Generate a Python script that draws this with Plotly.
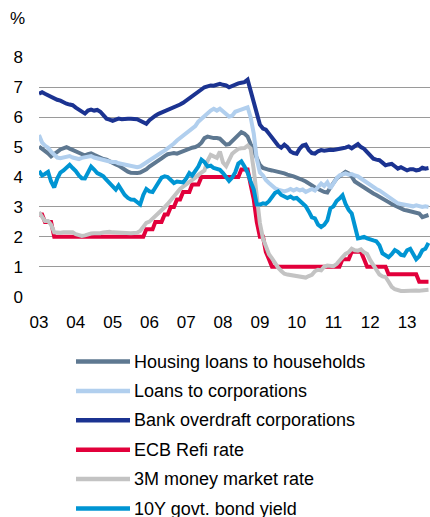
import pandas as pd
import plotly.graph_objects as go

dates = pd.date_range("2003-01-01", periods=128, freq="MS")

housing = [
    5.02, 4.95, 4.85, 4.79, 4.69, 4.75, 4.84, 4.92, 4.96, 5.00, 4.95, 4.90,
    4.84, 4.80, 4.75, 4.72, 4.76, 4.79, 4.74, 4.69, 4.64, 4.60, 4.58, 4.52,
    4.47, 4.42, 4.38, 4.30, 4.24, 4.18, 4.14, 4.12, 4.13, 4.15, 4.20, 4.26,
    4.35, 4.41, 4.48, 4.55, 4.62, 4.70, 4.76, 4.78, 4.80, 4.78, 4.82, 4.88,
    4.91, 4.94, 4.98, 5.00, 5.05, 5.15, 5.30, 5.35, 5.32, 5.30, 5.30, 5.28,
    5.18, 5.08, 5.10, 5.20, 5.30, 5.42, 5.50, 5.45, 5.35, 5.10, 4.85, 4.60,
    4.40, 4.30, 4.26, 4.24, 4.22, 4.20, 4.18, 4.15, 4.12, 4.08, 4.06, 4.02,
    3.98, 3.95, 3.90, 3.85, 3.80, 3.72, 3.65, 3.58, 3.55, 3.50, 3.48, 3.65,
    3.80, 3.95, 4.02, 4.10, 4.17, 4.12, 4.02, 3.85, 3.78, 3.70, 3.62, 3.55,
    3.50, 3.45, 3.40, 3.33, 3.28, 3.22, 3.16, 3.10, 3.04, 3.00, 2.95, 2.90,
    2.88, 2.85, 2.82, 2.80, 2.78, 2.66, 2.70, 2.73,
]

corporations = [
    5.40, 5.15, 5.05, 4.98, 4.85, 4.75, 4.65, 4.63, 4.65, 4.68, 4.70, 4.65,
    4.62, 4.60, 4.64, 4.66, 4.68, 4.70, 4.65, 4.62, 4.58, 4.58, 4.55, 4.52,
    4.50, 4.50, 4.46, 4.44, 4.44, 4.42, 4.38, 4.36, 4.33, 4.35, 4.42, 4.50,
    4.58, 4.65, 4.70, 4.75, 4.82, 4.88, 4.95, 5.05, 5.12, 5.22, 5.30, 5.38,
    5.45, 5.52, 5.60, 5.70, 5.85, 5.95, 6.05, 6.15, 6.22, 6.28, 6.22, 6.28,
    6.20, 6.08, 6.02, 6.05, 6.18, 6.22, 6.25, 6.30, 6.33, 6.00, 5.45, 4.60,
    4.15, 4.05, 3.90, 3.80, 3.70, 3.62, 3.58, 3.55, 3.52, 3.55, 3.60, 3.55,
    3.60, 3.55, 3.58, 3.50, 3.55, 3.60, 3.55, 3.65, 3.78, 3.70, 3.82, 3.62,
    3.80, 3.95, 4.05, 4.10, 4.12, 4.08, 4.10, 4.05, 4.02, 3.95, 3.88, 3.78,
    3.72, 3.65, 3.60, 3.55, 3.48, 3.42, 3.35, 3.25, 3.20, 3.12, 3.10, 3.08,
    3.05, 3.04, 3.02, 3.05, 3.02, 3.00, 3.02, 3.00,
]

overdraft = [
    6.78, 6.83, 6.78, 6.72, 6.68, 6.62, 6.58, 6.55, 6.48, 6.45, 6.42, 6.40,
    6.32, 6.25, 6.18, 6.12, 6.22, 6.25, 6.22, 6.24, 6.18, 6.05, 5.95, 5.92,
    5.88, 5.92, 5.95, 5.93, 5.95, 5.95, 5.95, 5.94, 5.93, 5.88, 5.82, 5.78,
    5.90, 6.00, 6.05, 6.11, 6.15, 6.20, 6.25, 6.30, 6.33, 6.37, 6.42, 6.48,
    6.55, 6.62, 6.70, 6.78, 6.85, 6.92, 7.00, 7.03, 7.06, 7.05, 7.08, 7.11,
    7.08, 7.06, 7.00, 7.05, 7.10, 7.13, 7.15, 7.17, 7.25, 6.90, 6.50, 6.10,
    5.75, 5.62, 5.58, 5.45, 5.30, 5.20, 5.05, 4.98, 5.08, 5.00, 4.85, 4.80,
    4.78, 4.95, 5.05, 5.08, 4.90, 4.80, 4.78, 4.86, 4.90, 4.88, 4.90, 4.91,
    4.90, 4.93, 4.95, 4.96, 4.98, 5.02, 4.96, 5.05, 5.10, 5.00, 4.94, 4.83,
    4.72, 4.61, 4.58, 4.56, 4.48, 4.39, 4.42, 4.44, 4.36, 4.28, 4.33, 4.26,
    4.22, 4.26, 4.26, 4.22, 4.24, 4.31, 4.28, 4.30,
]

ecb_refi = [
    2.75, 2.75, 2.50, 2.50, 2.50, 2.00, 2.00, 2.00, 2.00, 2.00, 2.00, 2.00,
    2.00, 2.00, 2.00, 2.00, 2.00, 2.00, 2.00, 2.00, 2.00, 2.00, 2.00, 2.00,
    2.00, 2.00, 2.00, 2.00, 2.00, 2.00, 2.00, 2.00, 2.00, 2.00, 2.00, 2.25,
    2.25, 2.25, 2.50, 2.50, 2.50, 2.75, 2.75, 3.00, 3.00, 3.25, 3.25, 3.50,
    3.50, 3.50, 3.75, 3.75, 3.75, 4.00, 4.00, 4.00, 4.00, 4.00, 4.00, 4.00,
    4.00, 4.00, 4.00, 4.00, 4.00, 4.00, 4.25, 4.25, 4.25, 3.75, 3.25, 2.50,
    2.00, 2.00, 1.50, 1.25, 1.00, 1.00, 1.00, 1.00, 1.00, 1.00, 1.00, 1.00,
    1.00, 1.00, 1.00, 1.00, 1.00, 1.00, 1.00, 1.00, 1.00, 1.00, 1.00, 1.00,
    1.00, 1.00, 1.00, 1.25, 1.25, 1.25, 1.50, 1.50, 1.50, 1.50, 1.25, 1.00,
    1.00, 1.00, 1.00, 1.00, 1.00, 1.00, 0.75, 0.75, 0.75, 0.75, 0.75, 0.75,
    0.75, 0.75, 0.75, 0.75, 0.50, 0.50, 0.50, 0.50,
]

money_3m = [
    2.83, 2.69, 2.53, 2.53, 2.40, 2.15, 2.13, 2.14, 2.15, 2.14, 2.16, 2.15,
    2.09, 2.07, 2.03, 2.05, 2.09, 2.11, 2.12, 2.11, 2.12, 2.15, 2.17, 2.17,
    2.15, 2.14, 2.14, 2.14, 2.13, 2.11, 2.12, 2.13, 2.14, 2.20, 2.36, 2.47,
    2.51, 2.60, 2.72, 2.79, 2.89, 2.99, 3.10, 3.23, 3.34, 3.50, 3.60, 3.68,
    3.75, 3.82, 3.89, 3.98, 4.07, 4.15, 4.22, 4.54, 4.74, 4.69, 4.64, 4.85,
    4.48, 4.36, 4.60, 4.78, 4.86, 4.94, 4.96, 4.97, 5.05, 4.95, 4.24, 3.29,
    2.46, 1.94, 1.64, 1.42, 1.28, 1.10, 0.97, 0.86, 0.77, 0.74, 0.72, 0.71,
    0.68, 0.66, 0.64, 0.64, 0.69, 0.73, 0.85, 0.90, 0.88, 1.00, 1.04, 1.02,
    1.02, 1.09, 1.18, 1.32, 1.43, 1.49, 1.60, 1.55, 1.54, 1.58, 1.48, 1.43,
    1.22, 1.05, 0.86, 0.74, 0.68, 0.66, 0.50, 0.33, 0.25, 0.21, 0.19, 0.19,
    0.20, 0.22, 0.21, 0.21, 0.20, 0.21, 0.22, 0.23,
]

bond_10y = [
    4.20, 4.05, 4.10, 4.17, 3.85, 3.65, 3.95, 4.15, 4.22, 4.30, 4.41, 4.30,
    4.20, 4.05, 3.96, 3.95, 4.15, 4.35, 4.25, 4.13, 4.08, 4.02, 3.90, 3.80,
    3.65, 3.58, 3.72, 3.55, 3.40, 3.30, 3.25, 3.24, 3.15, 3.08, 3.40, 3.60,
    3.52, 3.50, 3.65, 3.80, 3.98, 4.02, 4.00, 3.90, 3.80, 3.85, 3.85, 3.82,
    3.95, 4.13, 4.05, 4.20, 4.35, 4.58, 4.50, 4.35, 4.38, 4.30, 4.28, 4.24,
    4.13, 4.00, 3.87, 3.98, 4.15, 4.45, 4.52, 4.35, 4.15, 3.85, 3.58, 3.08,
    3.08, 3.12, 3.10, 3.19, 3.35, 3.47, 3.52, 3.40, 3.35, 3.30, 3.35, 3.28,
    3.30, 3.20, 3.10, 3.02, 2.85, 2.65, 2.62, 2.41, 2.33, 2.40, 2.55, 2.95,
    3.02, 3.20, 3.28, 3.39, 3.10, 2.90, 2.78, 2.30, 1.95, 1.97, 2.00, 1.95,
    1.90, 1.88, 1.85, 1.72, 1.45, 1.39, 1.32, 1.42, 1.56, 1.50, 1.40, 1.38,
    1.55, 1.60, 1.40, 1.25, 1.35, 1.55, 1.60, 1.80,
]

series_names = [
    "Housing loans to households",
    "Loans to corporations",
    "Bank overdraft corporations",
    "ECB Refi rate",
    "3M money market rate",
    "10Y govt. bond yield",
]
series_values = [housing, corporations, overdraft, ecb_refi, money_3m, bond_10y]
series_colors = ["#5e7891", "#b1cfee", "#1b3391", "#e2003b", "#c3c3c3", "#0095d3"]

FONT = "Arial, Liberation Sans, sans-serif"
W, H = 430, 517
ML, MR, MT, MB = 39, 0, 57, 220
PW, PH = W - ML - MR, H - MT - MB


def px_to_paper_x(px):
    return (px - ML) / PW


def px_to_paper_y(py):
    return (H - MB - py) / PH


fig = go.Figure()
for name, vals, col in zip(series_names, series_values, series_colors):
    fig.add_trace(go.Scatter(
        x=dates, y=vals, name=name, mode="lines",
        line=dict(color=col, width=4),
        showlegend=False,
    ))

# Manual legend (the original's legend runs off the bottom edge)
shapes = []
annotations = []
row_start, row_step = 361.5, 29.4
for i, (name, col) in enumerate(zip(series_names, series_colors)):
    yc = px_to_paper_y(row_start + i * row_step)
    shapes.append(dict(
        type="line", xref="paper", yref="paper",
        x0=px_to_paper_x(76), x1=px_to_paper_x(130), y0=yc, y1=yc,
        line=dict(color=col, width=4.5),
    ))
    annotations.append(dict(
        text=name, xref="paper", yref="paper",
        x=px_to_paper_x(131.5), y=yc, xanchor="left", yanchor="middle",
        showarrow=False, font=dict(family=FONT, size=18, color="#000000"),
    ))

annotations.append(dict(
    text="%", xref="paper", yref="paper",
    x=px_to_paper_x(17.5), y=px_to_paper_y(19), xanchor="center", yanchor="middle",
    showarrow=False, font=dict(family=FONT, size=17, color="#000000"),
))

fig.update_layout(
    width=W, height=H,
    margin=dict(l=ML, r=MR, t=MT, b=MB, autoexpand=False),
    paper_bgcolor="white", plot_bgcolor="white",
    font=dict(family=FONT, size=17, color="#000000"),
    showlegend=False,
    xaxis=dict(
        type="date",
        range=["2003-01-01", "2013-08-16"],
        tick0="2003-01-01", dtick="M12", tickformat="%y",
        showgrid=False, zeroline=False, showline=False,
        ticks="", ticklabelstandoff=13,
        tickfont=dict(size=17),
    ),
    yaxis=dict(
        range=[-0.01, 8.01],
        tick0=0, dtick=1,
        showgrid=True, gridcolor="#9a9a9a", gridwidth=1,
        zeroline=False, showline=False, ticks="",
        ticklabelstandoff=15,
        tickfont=dict(size=17),
    ),
    shapes=shapes,
    annotations=annotations,
)

fig.write_html(
    "out.html",
    config={"displayModeBar": False},
    post_script="document.body.style.margin='0';document.body.style.overflow='hidden';",
)
